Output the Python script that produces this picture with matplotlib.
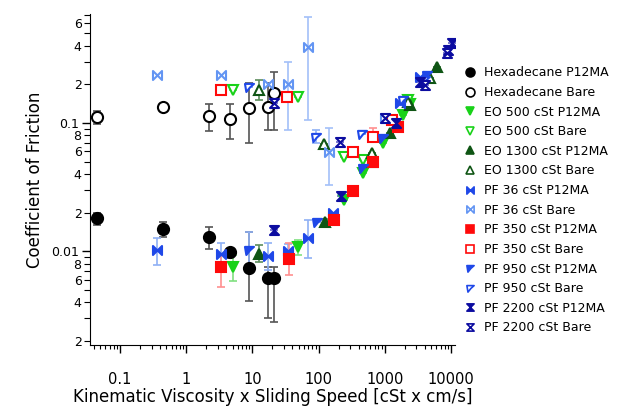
import numpy as np
import matplotlib
matplotlib.use("Agg")
import matplotlib.pyplot as plt
from matplotlib.path import Path
from matplotlib.lines import Line2D
from matplotlib.ticker import LogLocator, FuncFormatter, NullFormatter

# ---- data (x, mean, lower / upper end of error bar) ----
hex_p_x = [0.045, 0.44, 2.2, 4.5, 9.0, 17.3, 21.2]
hex_p_y = [0.0181, 0.0149, 0.0129, 0.0098, 0.0074, 0.0062, 0.0062]
hex_p_lo = [0.0160, 0.0129, 0.0105, 0.0088, 0.0041, 0.0030, 0.0028]
hex_p_hi = [0.0198, 0.0169, 0.0154, 0.0104, 0.0141, 0.0075, 0.0075]

hex_b_x = [0.045, 0.44, 2.2, 4.5, 9.0, 17.3, 21.2]
hex_b_y = [0.111, 0.133, 0.113, 0.107, 0.131, 0.133, 0.172]
hex_b_lo = [0.098, 0.133, 0.087, 0.075, 0.070, 0.088, 0.088]
hex_b_hi = [0.124, 0.133, 0.141, 0.141, 0.205, 0.205, 0.250]

eo500_p_x = [5.0, 48.7, 239, 461, 920, 1900, 2420]
eo500_p_y = [0.0076, 0.0107, 0.0250, 0.0407, 0.0700, 0.116, 0.140]
eo500_p_lo = [0.0059, 0.0093, 0.0250, 0.0407, 0.0700, 0.116, 0.140]
eo500_p_hi = [0.0093, 0.0122, 0.0250, 0.0407, 0.0700, 0.116, 0.140]

eo500_b_x = [5.0, 48.7, 239, 461, 2240]
eo500_b_y = [0.181, 0.160, 0.0543, 0.0514, 0.151]

eo1300_p_x = [12.6, 124, 630, 1213, 2420, 6170]
eo1300_p_y = [0.0096, 0.0169, 0.0496, 0.0835, 0.138, 0.274]
eo1300_p_lo = [0.0082, 0.0160, 0.0496, 0.0835, 0.138, 0.274]
eo1300_p_hi = [0.0111, 0.0180, 0.0496, 0.0835, 0.138, 0.274]

eo1300_b_x = [12.6, 120, 630, 2240, 4840]
eo1300_b_y = [0.181, 0.0686, 0.0583, 0.146, 0.225]
eo1300_b_lo = [0.151, 0.0686, 0.0583, 0.146, 0.225]
eo1300_b_hi = [0.216, 0.0686, 0.0583, 0.146, 0.225]

pf36_p_x = [0.36, 3.4, 17.3, 34.5, 68.9, 162, 1700, 3430]
pf36_p_y = [0.0102, 0.0095, 0.0092, 0.0100, 0.0126, 0.0198, 0.143, 0.229]
pf36_p_lo = [0.0078, 0.0080, 0.0071, 0.0088, 0.0088, 0.0198, 0.143, 0.229]
pf36_p_hi = [0.0126, 0.0115, 0.0115, 0.0114, 0.0175, 0.0198, 0.143, 0.229]

pf36_b_x = [0.36, 3.4, 17.3, 34.5, 68.9, 143, 1020]
pf36_b_y = [0.237, 0.237, 0.200, 0.200, 0.394, 0.0593, 0.109]
pf36_b_lo = [0.237, 0.237, 0.200, 0.0882, 0.106, 0.0328, 0.109]
pf36_b_hi = [0.237, 0.237, 0.200, 0.299, 0.673, 0.0914, 0.109]

pf350_p_x = [3.4, 36, 169, 326, 670, 1600]
pf350_p_y = [0.0076, 0.0087, 0.0175, 0.0294, 0.0496, 0.093]
pf350_p_lo = [0.0053, 0.0065, 0.0175, 0.0294, 0.0496, 0.093]
pf350_p_hi = [0.0093, 0.0115, 0.0175, 0.0294, 0.0496, 0.093]

pf350_b_x = [3.4, 33.5, 326, 651, 1300]
pf350_b_y = [0.181, 0.160, 0.0593, 0.0777, 0.106]
pf350_b_lo = [0.181, 0.160, 0.0593, 0.0777, 0.106]
pf350_b_hi = [0.181, 0.160, 0.0593, 0.0914, 0.106]

pf950_p_x = [9.0, 94, 461, 920, 4370]
pf950_p_y = [0.0102, 0.0169, 0.0445, 0.0764, 0.237]
pf950_p_lo = [0.0074, 0.0169, 0.0445, 0.0764, 0.237]
pf950_p_hi = [0.0141, 0.0169, 0.0445, 0.0764, 0.237]

pf950_b_x = [9.0, 90.8, 445, 1850, 4100]
pf950_b_y = [0.190, 0.0777, 0.082, 0.151, 0.216]
pf950_b_lo = [0.190, 0.0700, 0.082, 0.151, 0.216]
pf950_b_hi = [0.190, 0.0880, 0.082, 0.151, 0.216]

pf2200_p_x = [21.2, 215, 1450, 3430, 9000, 10400]
pf2200_p_y = [0.0146, 0.0269, 0.100, 0.210, 0.371, 0.420]

pf2200_b_x = [21.2, 208, 1020, 4100, 8710]
pf2200_b_y = [0.143, 0.0711, 0.109, 0.197, 0.352]

# ---- custom markers ----
bowtie = Path([(-1, 1), (1, -1), (1, 1), (-1, -1), (-1, 1)],
              [Path.MOVETO, Path.LINETO, Path.LINETO, Path.LINETO, Path.CLOSEPOLY])
hourglass = Path([(-1, 1), (1, 1), (-1, -1), (1, -1), (-1, 1)],
                 [Path.MOVETO, Path.LINETO, Path.LINETO, Path.LINETO, Path.CLOSEPOLY])
flag = Path([(-1, 0.8), (1, 0.8), (0.1, 0.0), (-0.7, -1), (-1, 0.8)],
            [Path.MOVETO, Path.LINETO, Path.LINETO, Path.LINETO, Path.CLOSEPOLY])

black = "#000000"
green = "#19d219"
dkgreen = "#0f5514"
blue = "#1f48e8"
ltblue = "#6395f3"
red = "#ff0a0a"
navy = "#0c0ca0"

fig = plt.figure(figsize=(6.33, 4.09), dpi=100)
ax = fig.add_axes([0.142, 0.156, 0.577, 0.81])
ax.set_xscale("log")
ax.set_yscale("log")

handles = []


def series(x, y, lo, hi, marker, color, ecol, filled, label, ms=7):
    x = np.array(x)
    y = np.array(y)
    if lo is None:
        lo = y
        hi = y
    err = [y - np.array(lo), np.array(hi) - y]
    mfc = color if filled else "white"
    ax.errorbar(x, y, yerr=err, fmt="none", ecolor=ecol, elinewidth=1.2,
                capsize=3, capthick=1.2, zorder=2)
    ax.plot(x, y, linestyle="none", marker=marker, ms=ms, mfc=mfc, mec=color,
            mew=1.5, zorder=3)
    handles.append(Line2D([], [], linestyle="none", marker=marker, ms=ms * 0.8,
                          mfc=mfc, mec=color, mew=1.2, label=label))


series(hex_p_x, hex_p_y, hex_p_lo, hex_p_hi, "o", black, "#555555", True, "Hexadecane P12MA", 8)
series(hex_b_x, hex_b_y, hex_b_lo, hex_b_hi, "o", black, "#555555", False, "Hexadecane Bare", 8)
series(eo500_p_x, eo500_p_y, eo500_p_lo, eo500_p_hi, "v", green, "#80e080", True, "EO 500 cSt P12MA")
series(eo500_b_x, eo500_b_y, None, None, "v", green, "#80e080", False, "EO 500 cSt Bare")
series(eo1300_p_x, eo1300_p_y, eo1300_p_lo, eo1300_p_hi, "^", dkgreen, "#5c8c5c", True, "EO 1300 cSt P12MA")
series(eo1300_b_x, eo1300_b_y, eo1300_b_lo, eo1300_b_hi, "^", dkgreen, "#5c8c5c", False, "EO 1300 cSt Bare")
series(pf36_p_x, pf36_p_y, pf36_p_lo, pf36_p_hi, bowtie, blue, "#8fb0f5", True, "PF 36 cSt P12MA", 6.5)
series(pf36_b_x, pf36_b_y, pf36_b_lo, pf36_b_hi, bowtie, ltblue, "#a3c0f8", False, "PF 36 cSt Bare", 6.5)
series(pf350_p_x, pf350_p_y, pf350_p_lo, pf350_p_hi, "s", red, "#ff9090", True, "PF 350 cSt P12MA", 6.5)
series(pf350_b_x, pf350_b_y, pf350_b_lo, pf350_b_hi, "s", red, "#ff9090", False, "PF 350 cSt Bare", 6.5)
series(pf950_p_x, pf950_p_y, pf950_p_lo, pf950_p_hi, flag, blue, "#8fb0f5", True, "PF 950 cSt P12MA", 6.5)
series(pf950_b_x, pf950_b_y, pf950_b_lo, pf950_b_hi, flag, blue, "#8fb0f5", False, "PF 950 cSt Bare", 6.5)
series(pf2200_p_x, pf2200_p_y, None, None, hourglass, navy, "#7a7ad0", True, "PF 2200 cSt P12MA", 6.5)
series(pf2200_b_x, pf2200_b_y, None, None, hourglass, navy, "#7a7ad0", False, "PF 2200 cSt Bare", 6.5)

ax.set_xlim(0.035, 11500)
ax.set_ylim(0.00185, 0.71)

ax.spines["top"].set_visible(False)
ax.spines["right"].set_visible(False)

ax.xaxis.set_major_locator(LogLocator(base=10, numticks=12))
ax.xaxis.set_minor_locator(LogLocator(base=10, subs=np.arange(2, 10), numticks=12))
ax.xaxis.set_minor_formatter(NullFormatter())
ax.xaxis.set_major_formatter(FuncFormatter(lambda v, p: f"{v:g}"))

ax.yaxis.set_major_locator(LogLocator(base=10, numticks=12))
ax.yaxis.set_minor_locator(LogLocator(base=10, subs=np.arange(2, 10), numticks=12))
ax.yaxis.set_major_formatter(FuncFormatter(lambda v, p: f"{v:g}"))


def minor_lab(v, p):
    d = int(round(v / 10 ** np.floor(np.log10(v) + 1e-9)))
    return str(d) if d in (2, 4, 6, 8) else ""


ax.yaxis.set_minor_formatter(FuncFormatter(minor_lab))

ax.tick_params(axis="x", which="major", length=6, width=1, pad=13, labelsize=10.5)
ax.tick_params(axis="x", which="minor", length=3, width=0.8)
ax.tick_params(axis="y", which="major", length=6, width=1, pad=2, labelsize=9)
ax.tick_params(axis="y", which="minor", length=4, width=0.8, pad=2, labelsize=9)

ax.set_xlabel("Kinematic Viscosity x Sliding Speed [cSt x cm/s]", fontsize=12, labelpad=1)
ax.set_ylabel("Coefficient of Friction", fontsize=12, labelpad=5)

fig.legend(handles=handles, loc="upper left", bbox_to_anchor=(0.725, 0.85),
           frameon=False, fontsize=9, handlelength=1.0, handletextpad=0.6,
           labelspacing=0.53, borderaxespad=0)

fig.savefig("out.png", dpi=100)
